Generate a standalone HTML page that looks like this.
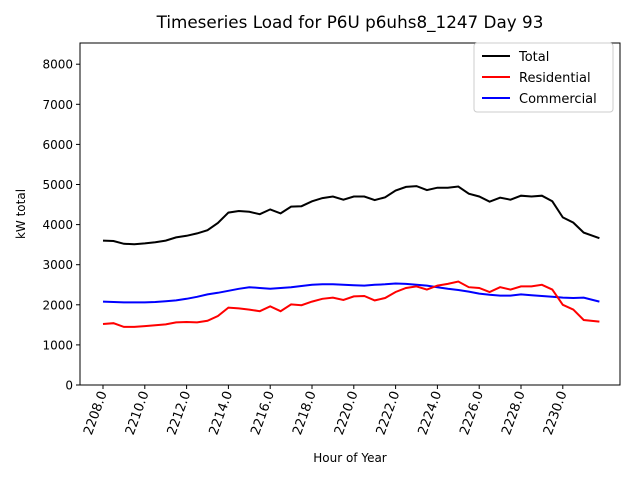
<!DOCTYPE html>
<html><head><meta charset="utf-8"><style>
body{margin:0;background:#fff}
svg text{font-family:"DejaVu Sans","Liberation Sans",sans-serif;fill:#000}
</style></head><body>
<svg id="chart" width="640" height="480" xmlns="http://www.w3.org/2000/svg">
<rect width="640" height="480" fill="#fff"/>
<text x="350" y="28" font-size="16.8" text-anchor="middle">Timeseries Load for P6U p6uhs8_1247  Day 93</text>
<text transform="translate(25,214) rotate(-90)" font-size="12" text-anchor="middle">kW total</text>
<text x="350" y="462" font-size="12" text-anchor="middle">Hour of Year</text>
<g id="axes"></g>
<g id="series"></g>
<rect x="80" y="43" width="540" height="342" fill="none" stroke="#000" stroke-width="1"/>
<g>
<rect x="474" y="43" width="139" height="69" fill="#fff" stroke="#ccc" rx="3"/>
<line x1="482" y1="56" x2="510" y2="56" stroke="#000" stroke-width="2"/>
<text x="519" y="61" font-size="13">Total</text>
<line x1="482" y1="77" x2="510" y2="77" stroke="red" stroke-width="2"/>
<text x="519" y="82" font-size="13">Residential</text>
<line x1="482" y1="98" x2="510" y2="98" stroke="blue" stroke-width="2"/>
<text x="519" y="103" font-size="13">Commercial</text>
</g>
</svg>
<script>
const hours=[2208,2208.5,2209,2209.5,2210,2210.5,2211,2211.5,2212,2212.5,2213,2213.5,2214,2214.5,2215,2215.5,2216,2216.5,2217,2217.5,2218,2218.5,2219,2219.5,2220,2220.5,2221,2221.5,2222,2222.5,2223,2223.5,2224,2224.5,2225,2225.5,2226,2226.5,2227,2227.5,2228,2228.5,2229,2229.5,2230,2230.5,2231,2231.75];
const total=[3600,3590,3520,3510,3530,3560,3600,3680,3720,3780,3860,4040,4300,4340,4320,4260,4380,4280,4450,4460,4580,4660,4700,4620,4700,4700,4610,4680,4850,4940,4960,4860,4920,4920,4950,4770,4700,4570,4670,4620,4720,4700,4720,4580,4180,4050,3800,3660];
const residential=[1520,1540,1450,1450,1470,1490,1510,1560,1570,1560,1600,1720,1930,1910,1880,1840,1960,1840,2010,1990,2080,2150,2180,2120,2210,2220,2110,2170,2320,2420,2460,2380,2480,2520,2580,2440,2420,2320,2440,2380,2460,2460,2500,2380,2000,1880,1620,1580];
const commercial=[2080,2070,2060,2060,2060,2070,2090,2110,2150,2200,2260,2300,2350,2400,2440,2420,2400,2420,2440,2470,2500,2510,2510,2500,2490,2480,2500,2510,2530,2520,2500,2480,2440,2400,2370,2330,2280,2250,2230,2230,2260,2240,2220,2200,2180,2170,2180,2080];
const xTicks=[2208,2210,2212,2214,2216,2218,2220,2222,2224,2226,2228,2230];
const yTicks=[0,1000,2000,3000,4000,5000,6000,7000,8000];
const NS="http://www.w3.org/2000/svg";
function X(h){return 103+(h-2208)*20.9;}
function Y(v){return 385-v*0.0401;}
const axes=document.getElementById('axes');
yTicks.forEach(v=>{
 const l=document.createElementNS(NS,'line');
 l.setAttribute('x1',76);l.setAttribute('x2',80);l.setAttribute('y1',Y(v));l.setAttribute('y2',Y(v));l.setAttribute('stroke','#000');
 
 
 axes.appendChild(l);
 const t=document.createElementNS(NS,'text');
 t.setAttribute('x',73);t.setAttribute('y',Y(v)+4.5);t.setAttribute('font-size','12');t.setAttribute('text-anchor','end');
 t.textContent=v;
 
 
 axes.appendChild(t);
});
xTicks.forEach(h=>{
 const l=document.createElementNS(NS,'line');
 l.setAttribute('x1',X(h));l.setAttribute('x2',X(h));l.setAttribute('y1',385);l.setAttribute('y2',389);l.setAttribute('stroke','#000');
 
 
 axes.appendChild(l);
 const t=document.createElementNS(NS,'text');
 t.setAttribute('transform','translate('+(X(h)+4)+',393) rotate(-70)');
 t.setAttribute('font-size','13');t.setAttribute('text-anchor','end');
 t.textContent=h.toFixed(1);
 
 
 axes.appendChild(t);
});
const series=document.getElementById('series');
[[commercial,'blue','commercial-line'],[residential,'red','residential-line'],[total,'#000','total-line']].forEach(([d,c,n])=>{
 const p=document.createElementNS(NS,'polyline');
 p.setAttribute('points',d.map((v,i)=>X(hours[i]).toFixed(1)+','+Y(v).toFixed(1)).join(' '));
 p.setAttribute('fill','none');p.setAttribute('stroke',c);p.setAttribute('stroke-width','2');
 
 
 series.appendChild(p);
});
</script>
</body></html>
